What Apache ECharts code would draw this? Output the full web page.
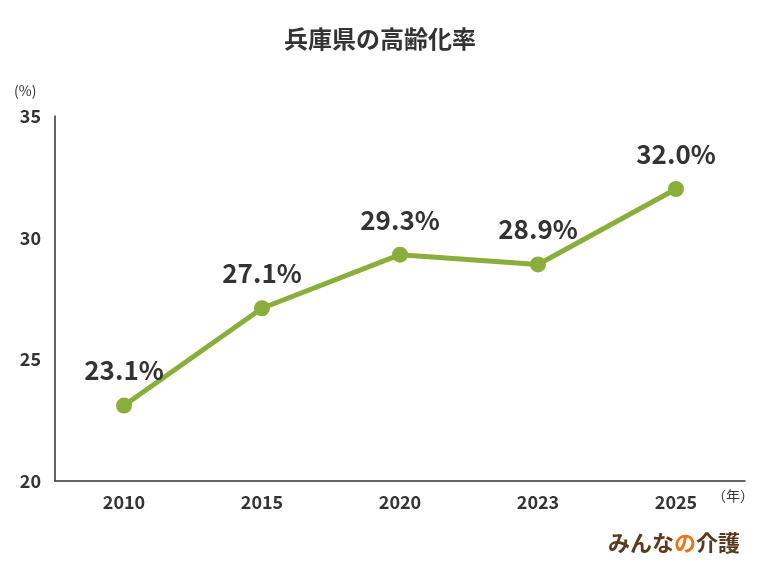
<!DOCTYPE html>
<html><head><meta charset="utf-8">
<script src="https://cdn.jsdelivr.net/npm/echarts@6/dist/echarts.min.js"></script>
<style>body{margin:0}#c{width:760px;height:570px}</style></head>
<body><div id="c"></div>
<script>
const categories = ['2010','2015','2020','2023','2025'];
const values = [23.1, 27.1, 29.3, 28.9, 32.0];
const yTicks = [20, 25, 30, 35];
const font = '"Noto Sans CJK JP", "Noto Sans", sans-serif';
const chart = echarts.init(document.getElementById('c'));
chart.setOption({
  animation:false,
  textStyle:{fontFamily:font},
  title:{text:'兵庫県の高齢化率',left:'center',top:22,textStyle:{fontSize:24,fontWeight:'bold',color:'#333',fontFamily:font}},
  grid:{left:55,right:15,top:116,bottom:89},
  graphic:[
    {type:'text',left:14,top:84,style:{text:'(%)',fontSize:14,fill:'#333',fontFamily:font}},
    {type:'text',left:712,top:489,style:{text:'（年）',fontSize:14,fill:'#333',fontFamily:font}},
    {type:'text',right:20,top:532,style:{rich:{a:{fontSize:22,fontWeight:'bold',fill:'#5a3a1e',fontFamily:font},b:{fontSize:22,fontWeight:'bold',fill:'#e8761e',fontFamily:font}},text:'{a|みんな}{b|の}{a|介護}'}}
  ],
  xAxis:{type:'category',data:categories,boundaryGap:true,
    axisLine:{lineStyle:{color:'#333',width:1.5}},axisTick:{show:false},
    axisLabel:{fontSize:18,fontWeight:'bold',color:'#333',margin:12}},
  yAxis:{type:'value',min:20,max:35,interval:5,
    axisLine:{show:true,lineStyle:{color:'#333',width:1.5}},splitLine:{show:false},axisTick:{show:false},
    axisLabel:{fontSize:18,fontWeight:'bold',color:'#333',margin:14,formatter:v=>yTicks.includes(v)?String(v):''}},
  series:[{type:'line',data:values,symbol:'circle',symbolSize:16,
    lineStyle:{color:'#8aae3b',width:5},itemStyle:{color:'#8aae3b'},
    label:{show:true,position:'top',distance:14,fontSize:26,fontWeight:'bold',color:'#333',formatter:p=>p.value.toFixed(1)+'%'}}]
});
</script></body></html>
